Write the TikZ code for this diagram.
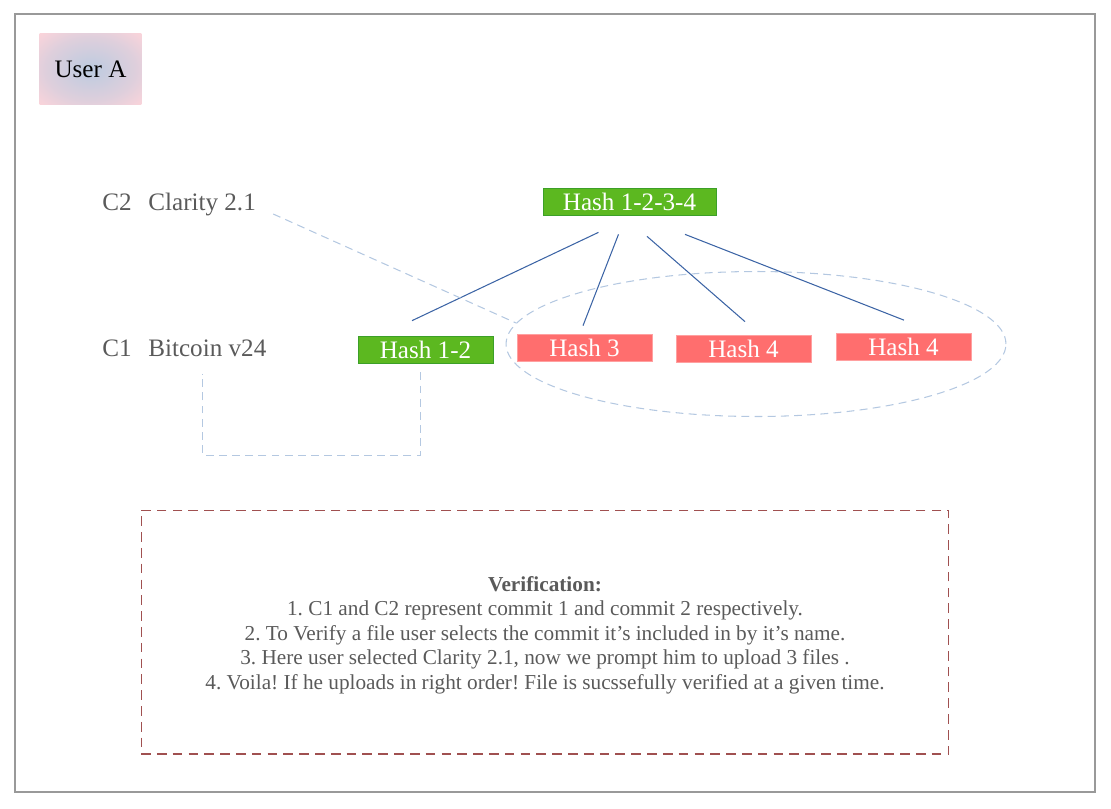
\documentclass[tikz,border=0pt]{standalone}
\usepackage{fontspec}
\setmainfont{Liberation Serif}
\usetikzlibrary{shapes.geometric}
\definecolor{hashgreen}{RGB}{92,184,32}
\definecolor{hashgreenline}{RGB}{60,160,40}
\definecolor{hashred}{RGB}{255,110,110}
\definecolor{hashredline}{RGB}{255,160,160}
\definecolor{linkblue}{RGB}{60,100,165}
\definecolor{dashblue}{RGB}{180,200,225}
\definecolor{notered}{RGB}{160,80,80}
\definecolor{textgray}{RGB}{90,90,90}
\definecolor{usercenter}{RGB}{188,203,224}
\definecolor{usermid}{RGB}{222,207,220}
\definecolor{userouter}{RGB}{252,212,218}
\pgfdeclareradialshading{userglow}{\pgfpoint{0bp}{0bp}}{color(0bp)=(usercenter); color(22bp)=(usermid); color(36bp)=(userouter); color(50bp)=(userouter)}

\begin{document}
\frenchspacing
\begin{tikzpicture}[x=0.02cm, y=-0.02cm,
    hashbox/.style={minimum height=0.54cm, minimum width=2.7cm, inner sep=0pt, text=white, font=\fontsize{14.3}{16}\selectfont},
    hashok/.style={hashbox, fill=hashgreen, draw=hashgreenline},
    hashbad/.style={hashbox, fill=hashred, draw=hashredline},
    clabel/.style={inner sep=0pt, text=textgray, font=\fontsize{14.3}{17}\selectfont},
    link/.style={draw=linkblue, line width=0.6pt},
    dashline/.style={draw=dashblue, line width=0.6pt, dash pattern=on 4.5pt off 3pt}]
    \useasboundingbox (0,0) rectangle (1111,808);
    \draw[black!40, line width=0.6pt] (15,14) rectangle (1095,792);

    \node[shading=userglow, minimum width=2.04cm, minimum height=1.44cm, font=\fontsize{14.3}{16}\selectfont] (user) at (90.5,69) {User A};

    \node[clabel, anchor=base] (c2) at (117,210) {C2};
    \node[clabel, anchor=base west] (c2name) at (148,210) {Clarity 2.1};
    \node[clabel, anchor=base] (c1) at (117,356) {C1};
    \node[clabel, anchor=base west] (c1name) at (148,356) {Bitcoin v24};

    \node[hashok, minimum width=3.46cm] (top) at (629.5,201.5) {Hash 1-2-3-4};
    \node[hashok] (h12) at (425.5,349.5) {Hash 1-2};
    \node[hashbad] (h3) at (584.5,347.5) {Hash 3};
    \node[hashbad] (h4a) at (743.5,348.5) {Hash 4};
    \node[hashbad] (h4b) at (903.5,347) {Hash 4};

    \node[ellipse, dashline, minimum width=10cm, minimum height=2.9cm, inner sep=0pt] (ring) at (756,344) {};

    \draw[link] ([shift={(-31,17)}]top.south) -- ([shift={(-13.5,-15)}]h12.north);
    \draw[link] ([shift={(-11,19)}]top.south) -- ([shift={(-1.5,-8)}]h3.north);
    \draw[link] ([shift={(17.5,21)}]top.south) -- ([shift={(1.5,-13)}]h4a.north);
    \draw[link] ([shift={(55.5,19)}]top.south) -- ([shift={(0.5,-13)}]h4b.north);

    \draw[dashline] ([shift={(17,10)}]c2name.east) -- (ring.175);
    \draw[dashline] ([shift={(-5,9)}]h12.south) -- ++(0,83) -| ([shift={(-4.5,17)}]c1name.south);

    \node[draw=notered, line width=0.6pt, dash pattern=on 5.5pt off 3.5pt, minimum width=16.16cm, minimum height=4.88cm] (note) at (545,632) {};
    \node[align=center, text=textgray, font=\fontsize{12.1}{13.9}\selectfont] (notetext) at ([yshift=-1.7]note.center)
    {\textbf{Verification:}\\
     1. C1 and C2 represent commit 1 and commit 2 respectively.\\
     2. To Verify a file user selects the commit it’s included in by it’s name.\\
     3. Here user selected Clarity 2.1, now we prompt him to upload 3 files .\\
     4. Voila! If he uploads in right order! File is sucssefully verified at a given time.};
\end{tikzpicture}
\end{document}
